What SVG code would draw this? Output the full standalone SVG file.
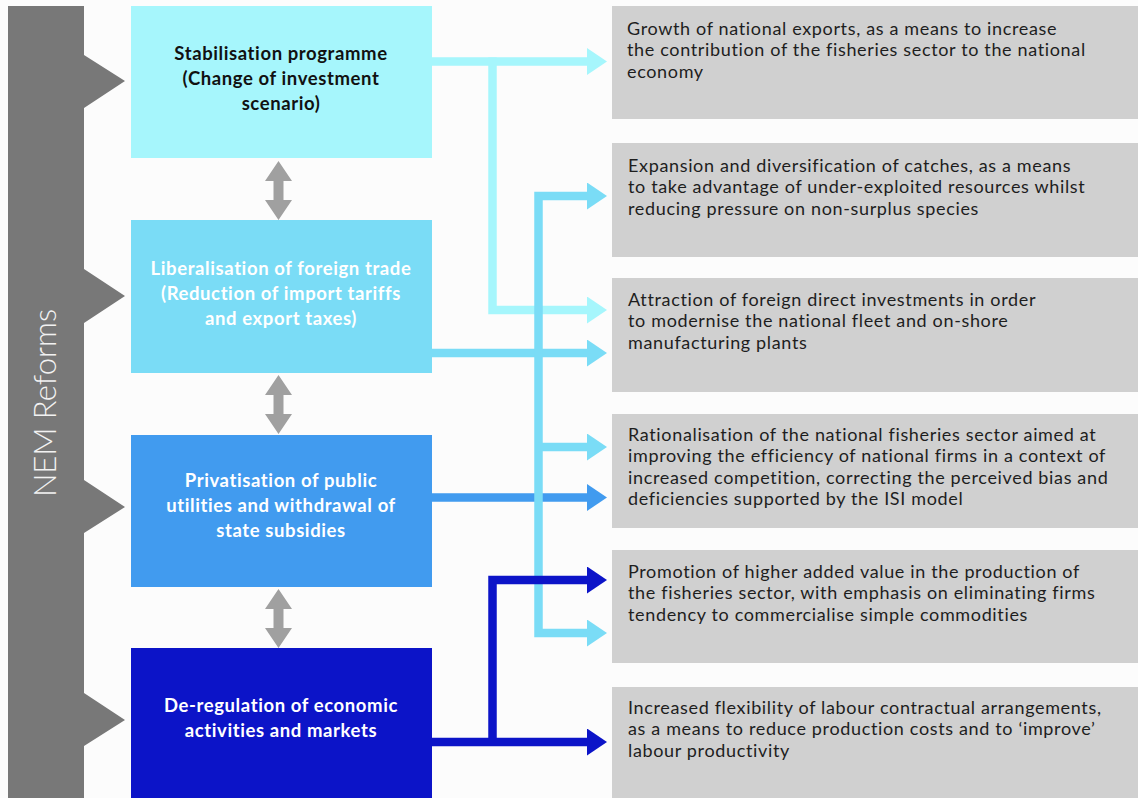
<svg xmlns="http://www.w3.org/2000/svg" width="1138" height="798" viewBox="0 0 1138 798">
<defs>
<style>
.lt{font-family:Lato,"Open Sans","Liberation Sans",sans-serif;font-weight:700;font-size:18.5px;letter-spacing:0.6px;text-anchor:middle}
.rt{font-family:Lato,"Open Sans","Liberation Sans",sans-serif;font-size:18px;letter-spacing:0.65px;fill:#1e1e1e}
.rbox{fill:#d0d0d0}
.dbl{fill:#a0a0a0}
.conn{fill:none;stroke-width:8.5;stroke-linejoin:miter}
</style>
<marker id="a1" viewBox="0 0 20 27" refX="1" refY="13.5" markerWidth="20" markerHeight="27" markerUnits="userSpaceOnUse" orient="auto-start-reverse"><path d="M0,0L20,13.5L0,27Z" fill="#a6f6fc"/></marker>
<marker id="a2" viewBox="0 0 20 27" refX="1" refY="13.5" markerWidth="20" markerHeight="27" markerUnits="userSpaceOnUse" orient="auto-start-reverse"><path d="M0,0L20,13.5L0,27Z" fill="#7adcf6"/></marker>
<marker id="a3" viewBox="0 0 20 27" refX="1" refY="13.5" markerWidth="20" markerHeight="27" markerUnits="userSpaceOnUse" orient="auto-start-reverse"><path d="M0,0L20,13.5L0,27Z" fill="#419bef"/></marker>
<marker id="a4" viewBox="0 0 20 27" refX="1" refY="13.5" markerWidth="20" markerHeight="27" markerUnits="userSpaceOnUse" orient="auto-start-reverse"><path d="M0,0L20,13.5L0,27Z" fill="#0c14c8"/></marker>
<path id="dblarrow" d="M0,0L13.5,20H5V39H13.5L0,59L-13.5,39H-5V20H-13.5Z"/>
</defs>
<rect width="1138" height="798" fill="#fcfcfc"/>

<g id="nem-reforms">
<path d="M8,6H84V55L125,81L84,108V269L125,296L84,323V480L125,507L84,533V693L125,720L84,746V798H8Z" fill="#787878"/>
<text transform="translate(56,403) rotate(-90)" text-anchor="middle" font-family="Lato,'Open Sans','Liberation Sans',sans-serif" font-weight="300" font-size="31" fill="#f2f2f2">NEM Reforms</text>
</g>

<g id="stabilisation">
<rect x="131" y="6" width="301" height="152" fill="#a6f6fc"/>
<text class="lt" fill="#111"><tspan x="281" y="60">Stabilisation programme</tspan><tspan x="281" y="85">(Change of investment</tspan><tspan x="281" y="110">scenario)</tspan></text>
</g>
<g id="liberalisation">
<rect x="131" y="220" width="301" height="153" fill="#7adcf6"/>
<text class="lt" fill="#ffffff"><tspan x="281" y="275">Liberalisation of foreign trade</tspan><tspan x="281" y="300">(Reduction of import tariffs</tspan><tspan x="281" y="325">and export taxes)</tspan></text>
</g>
<g id="privatisation">
<rect x="131" y="435" width="301" height="152" fill="#419bef"/>
<text class="lt" fill="#ffffff"><tspan x="281" y="487">Privatisation of public</tspan><tspan x="281" y="512">utilities and withdrawal of</tspan><tspan x="281" y="537">state subsidies</tspan></text>
</g>
<g id="deregulation">
<rect x="131" y="648" width="301" height="150" fill="#0c14c8"/>
<text class="lt" fill="#ffffff"><tspan x="281" y="712">De-regulation of economic</tspan><tspan x="281" y="737">activities and markets</tspan></text>
</g>

<g id="link-arrows">
<use href="#dblarrow" x="278.5" y="161" class="dbl"/>
<use href="#dblarrow" x="278.5" y="375" class="dbl"/>
<use href="#dblarrow" x="278.5" y="589" class="dbl"/>
</g>

<g id="out-exports">
<rect class="rbox" x="612" y="6" width="526" height="113"/>
<text class="rt"><tspan x="627" y="35">Growth of national exports, as a means to increase</tspan><tspan x="627" y="56.3">the contribution of the fisheries sector to the national</tspan><tspan x="627" y="77.6">economy</tspan></text>
</g>
<g id="out-catches">
<rect class="rbox" x="612" y="143" width="526" height="114"/>
<text class="rt"><tspan x="628" y="172">Expansion and diversification of catches, as a means</tspan><tspan x="628" y="193.3">to take advantage of under-exploited resources whilst</tspan><tspan x="628" y="214.6">reducing pressure on non-surplus species</tspan></text>
</g>
<g id="out-fdi">
<rect class="rbox" x="612" y="278" width="526" height="114"/>
<text class="rt"><tspan x="628" y="306">Attraction of foreign direct investments in order</tspan><tspan x="628" y="327.3">to modernise the national fleet and on-shore</tspan><tspan x="628" y="348.6">manufacturing plants</tspan></text>
</g>
<g id="out-rationalisation">
<rect class="rbox" x="612" y="414" width="526" height="114"/>
<text class="rt"><tspan x="628" y="441">Rationalisation of the national fisheries sector aimed at</tspan><tspan x="628" y="462.3">improving the efficiency of national firms in a context of</tspan><tspan x="628" y="483.6">increased competition, correcting the perceived bias and</tspan><tspan x="628" y="504.9">deficiencies supported by the ISI model</tspan></text>
</g>
<g id="out-value">
<rect class="rbox" x="612" y="550" width="526" height="113"/>
<text class="rt"><tspan x="628" y="578">Promotion of higher added value in the production of</tspan><tspan x="628" y="599.3">the fisheries sector, with emphasis on eliminating firms</tspan><tspan x="628" y="620.6">tendency to commercialise simple commodities</tspan></text>
</g>
<g id="out-labour">
<rect class="rbox" x="612" y="687" width="526" height="111"/>
<text class="rt"><tspan x="628" y="714">Increased flexibility of labour contractual arrangements,</tspan><tspan x="628" y="735.3">as a means to reduce production costs and to ‘improve’</tspan><tspan x="628" y="756.6">labour productivity</tspan></text>
</g>

<g id="connectors">
<path class="conn" stroke="#a6f6fc" d="M432,61.5H588" marker-end="url(#a1)"/>
<path class="conn" stroke="#a6f6fc" d="M492.5,57.5V310H588" marker-end="url(#a1)"/>
<path class="conn" stroke="#419bef" d="M432,497.5H588" marker-end="url(#a3)"/>
<path class="conn" stroke="#7adcf6" d="M432,353H588" marker-end="url(#a2)"/>
<path class="conn" stroke="#7adcf6" d="M588,196H538.5V633H588" marker-start="url(#a2)" marker-end="url(#a2)"/>
<path class="conn" stroke="#7adcf6" d="M538.5,447H588" marker-end="url(#a2)"/>
<path class="conn" stroke="#0c14c8" d="M432,742H588" marker-end="url(#a4)"/>
<path class="conn" stroke="#0c14c8" d="M492.5,746V580H588" marker-end="url(#a4)"/>
</g>
</svg>
